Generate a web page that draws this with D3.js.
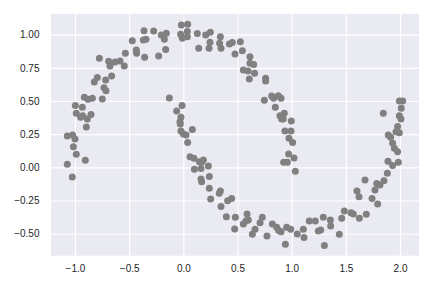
<!DOCTYPE html>
<html><head><meta charset="utf-8">
<script src="https://cdn.jsdelivr.net/npm/d3@7"></script>
<style>body{margin:0;background:#fff}svg{display:block}</style>
</head><body>
<script>
const xs = [-1.071,-1.025,-1.071,-1.022,-1.000,-1.015,-0.988,-0.905,-0.997,-0.988,-0.948,-0.932,-0.929,-0.914,-0.895,-0.886,-0.880,-0.852,-0.840,-0.822,-0.794,-0.775,-0.748,-0.732,-0.714,-0.717,-0.689,-0.677,-0.662,-0.631,-0.585,-0.545,-0.535,-0.471,-0.434,-0.431,-0.363,-0.369,-0.357,-0.345,-0.274,-0.228,-0.203,-0.175,-0.163,-0.157,-0.025,-0.018,-0.009,0.040,0.037,0.037,0.129,0.142,0.206,0.249,0.246,0.237,0.342,0.335,0.348,0.425,0.452,0.477,0.526,0.545,0.554,0.597,0.615,0.609,0.615,0.649,0.658,0.760,0.760,0.748,0.815,0.834,0.849,0.877,0.902,0.892,0.908,0.932,0.923,0.997,0.938,0.994,0.975,1.009,0.972,1.022,0.926,0.960,1.034,
-0.129,-0.062,-0.012,-0.022,-0.031,-0.028,-0.022,0.000,0.025,0.040,0.083,0.062,0.098,0.102,0.148,0.169,0.185,0.163,0.163,0.169,0.231,0.240,0.240,0.252,0.332,0.342,0.348,0.397,0.409,0.446,0.474,0.480,0.554,0.578,0.588,0.600,0.637,0.662,0.708,0.729,0.772,0.822,0.862,0.880,0.902,0.942,0.954,0.991,1.052,1.108,1.114,1.163,1.218,1.246,1.268,1.292,1.302,1.357,1.360,1.440,1.462,1.486,1.548,1.569,1.625,1.689,1.603,1.622,1.677,1.742,1.769,1.785,1.794,1.815,1.852,1.883,1.889,1.932,1.985,1.846,1.892,1.914,1.932,1.948,1.978,1.963,1.978,1.994,1.994,2.025,2.012,1.994,2.009];
const ys = [0.023,-0.073,0.236,0.244,0.214,0.156,0.098,0.053,0.467,0.407,0.377,0.452,0.389,0.528,0.304,0.364,0.513,0.399,0.520,0.643,0.678,0.822,0.515,0.600,0.578,0.658,0.799,0.764,0.688,0.794,0.802,0.764,0.859,0.955,0.884,0.859,1.030,0.960,0.829,0.965,1.028,0.839,0.997,0.965,0.889,1.010,1.003,1.073,0.972,1.078,1.023,0.985,1.008,0.897,0.997,1.018,0.942,0.897,0.985,0.935,0.897,0.930,0.940,0.854,0.947,0.879,0.734,0.726,0.834,0.666,0.784,0.776,0.709,0.671,0.651,0.505,0.538,0.520,0.452,0.540,0.520,0.389,0.364,0.407,0.364,0.349,0.274,0.274,0.219,0.188,0.101,0.070,0.038,0.038,-0.030,
0.523,0.425,0.467,0.377,0.344,0.327,0.274,0.251,0.244,0.188,0.286,0.080,0.068,-0.015,0.043,0.038,0.055,-0.008,-0.088,-0.108,0.010,-0.070,-0.158,-0.239,-0.196,-0.178,-0.296,-0.372,-0.251,-0.234,-0.465,-0.377,-0.427,-0.405,-0.352,-0.397,-0.505,-0.467,-0.417,-0.377,-0.518,-0.427,-0.452,-0.477,-0.485,-0.580,-0.452,-0.467,-0.503,-0.467,-0.528,-0.405,-0.405,-0.480,-0.472,-0.377,-0.590,-0.397,-0.442,-0.505,-0.384,-0.329,-0.342,-0.352,-0.384,-0.354,-0.178,-0.221,-0.095,-0.234,-0.171,-0.121,-0.276,-0.133,-0.101,-0.045,0.045,0.013,0.038,0.407,0.244,0.226,0.181,0.143,0.118,0.269,0.307,0.261,0.500,0.500,0.445,0.389,0.364];
const xTicks = [-1.0,-0.5,0.0,0.5,1.0,1.5,2.0];
const yTicks = [-0.50,-0.25,0.00,0.25,0.50,0.75,1.00];

const W = 432, H = 288;
const L = 51, R = 419, T = 14, B = 255.7;
const svg = d3.select("body").append("svg").attr("width", W).attr("height", H);
const x = d3.scaleLinear().domain([-1.2215, 2.1754]).range([L, R]);
const y = d3.scaleLinear().domain([-0.666, 1.1557]).range([B, T]);

svg.append("rect").attr("x", L).attr("y", T).attr("width", R - L).attr("height", B - T).attr("fill", "#EAEAF2");

const fmtMinus = s => s.replace("-", "\u2212");
const gx = svg.append("g").attr("transform", `translate(0,${B})`)
  .call(d3.axisBottom(x).tickValues(xTicks).tickSize(-(B - T)).tickPadding(9.5).tickFormat(d => fmtMinus(d3.format(".1f")(d))));
const gy = svg.append("g").attr("transform", `translate(${L},0)`)
  .call(d3.axisLeft(y).tickValues(yTicks).tickSize(-(R - L)).tickPadding(11.5).tickFormat(d => fmtMinus(d3.format(".2f")(d))));
[gx, gy].forEach(g => {
  g.select(".domain").remove();
  g.selectAll(".tick line").attr("stroke", "#fff").attr("stroke-width", 1.1);
  g.selectAll(".tick text").attr("fill", "#262626").style("font-family", "'Liberation Sans', Arial, sans-serif").style("font-size", "10px");
});

svg.append("g").selectAll("circle").data(xs.map((v, i) => [v, ys[i]])).join("circle")
  .attr("cx", d => x(d[0])).attr("cy", d => y(d[1])).attr("r", 3.5).attr("fill", "#808080");
</script>
</body></html>
